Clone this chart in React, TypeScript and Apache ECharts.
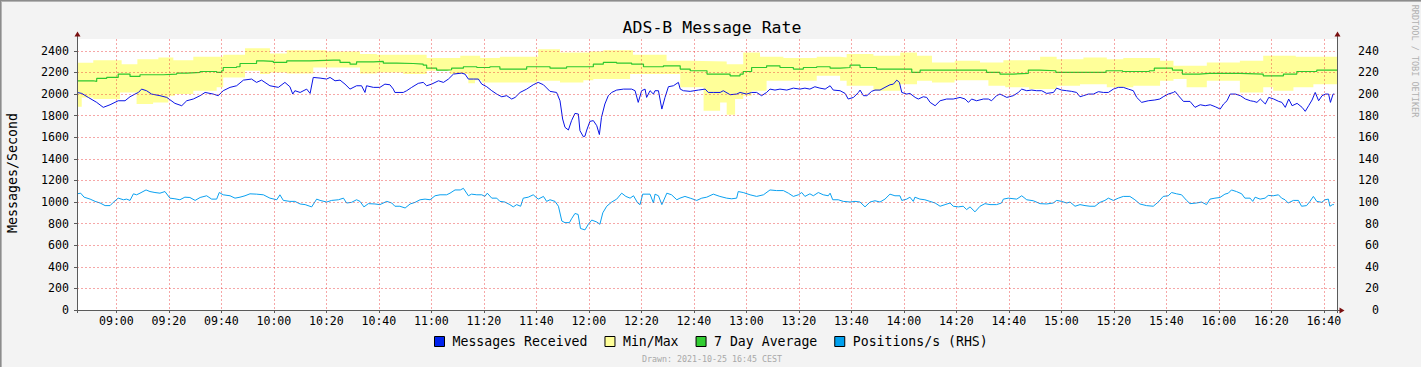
import React, { useEffect, useRef } from "react";
import * as echarts from "echarts";

// ---------- data (minutes after 08:45) ----------
const START_MIN = 525; // 08:45
const END_MIN = 1005; // 16:45

const timeLabels = ["09:00","09:20","09:40","10:00","10:20","10:40","11:00","11:20","11:40","12:00","12:20","12:40","13:00","13:20","13:40","14:00","14:20","14:40","15:00","15:20","15:40","16:00","16:20","16:40"];
const leftTicks = [0,200,400,600,800,1000,1200,1400,1600,1800,2000,2200,2400];
const rightTicks = [0,20,40,60,80,100,120,140,160,180,200,220,240];

const msgT = [0,1.8,4.3,7.5,10.0,12.6,15.7,18.3,20.2,22.1,23.4,24.6,26.5,28.4,31.6,34.2,37.3,39.9,41.8,44.3,46.9,48.8,51.9,53.8,55.7,58.3,60.8,63.4,66.5,68.4,70.3,73.5,76.7,79.2,81.1,82.2,83.0,85.0,87.5,88.8,90.0,92.6,95.1,96.4,98.3,100.2,102.1,104.0,106.5,108.4,109.7,110.3,112.9,115.4,117.3,119.2,120.5,121.1,124.3,125.6,127.5,130.0,131.9,133.2,135.1,137.7,139.6,141.5,143.4,146.5,147.8,149.1,151.0,152.9,154.2,156.1,158.0,159.9,161.8,163.7,165.6,166.9,168.8,171.3,173.8,175.7,177.7,180.2,182.7,184.0,185.0,185.9,187.2,188.4,189.7,191.0,191.6,192.9,193.5,194.2,195.4,196.7,198.0,199.0,199.8,201.1,202.4,203.7,205.6,208.2,211.3,212.6,213.8,215.1,216.4,217.0,218.3,219.6,220.2,221.5,222.8,224.0,225.3,227.2,229.1,229.8,231.0,233.6,236.7,239.3,240.5,242.4,245.0,246.2,248.8,251.3,252.6,255.1,257.0,258.9,260.8,262.7,264.0,265.9,267.8,270.4,272.9,275.4,277.3,279.2,281.1,283.0,285.0,286.9,288.1,290.7,292.6,293.8,295.8,297.7,298.3,299.6,300.9,302.7,304.0,305.9,307.8,309.7,311.0,312.3,313.3,314.2,316.1,317.3,319.3,320.5,322.4,323.7,325.0,326.9,328.8,331.3,333.8,336.4,338.3,339.6,340.8,342.7,345.3,347.2,348.4,350.3,351.6,352.9,354.2,356.7,358.6,359.9,361.8,363.7,365.6,367.5,369.4,372.0,373.2,375.1,377.0,378.9,380.8,382.1,383.4,385.3,387.2,389.1,391.0,392.9,394.8,396.7,398.6,400.5,402.4,403.7,405.6,408.1,410.6,412.5,413.8,415.7,417.7,418.3,419.6,421.5,424.0,425.9,427.9,429.8,431.7,433.6,435.5,436.8,438.1,439.3,441.3,443.2,445.1,447.0,448.3,449.5,450.8,452.7,454.0,455.9,457.8,459.0,460.3,461.6,462.9,464.8,466.7,467.9,469.2,470.5,471.7,473.0,474.3,475.6,476.8,477.5,478.5,479.0];
const msgV = [2015,2006,1969,1923,1877,1901,1938,1938,1975,2000,2015,2046,2031,2000,1985,1969,1914,1892,1938,1954,1985,2015,2000,1985,2031,2062,2077,2129,2139,2108,2129,2077,2062,2108,2068,2000,2031,2015,2046,2006,2154,2148,2139,2154,2123,2129,2092,2046,2077,2077,2015,2077,2062,2062,2092,2086,2046,2015,2015,2031,2062,2099,2108,2077,2092,2123,2108,2139,2185,2194,2185,2139,2139,2139,2092,2068,2031,2000,1975,1985,1954,1969,2015,2046,2086,2108,2086,2025,2015,1938,1769,1692,1667,1754,1821,1815,1661,1605,1610,1667,1747,1754,1707,1625,1784,1908,1985,2015,2037,2046,2046,2031,1923,2031,2046,1969,2031,2000,2031,2031,1861,1969,2068,2077,2108,2046,2031,2025,2037,2046,2015,2015,2015,2031,1994,2000,2015,2000,2015,2015,1985,2015,2046,2037,2046,2037,2055,2046,2055,2046,2068,2055,2046,2077,2037,2031,2006,1954,1969,2015,2037,1985,1985,2025,2037,2037,2062,2086,2092,2129,2108,2015,2000,2006,1969,1954,1975,1969,1923,1892,1938,1954,1954,1969,1954,1923,1954,1938,1954,1954,1938,1985,2000,1985,1969,1985,2015,2046,2031,2037,2031,2031,2006,2015,2055,2037,2031,2025,2015,1975,1985,2000,2000,2022,2015,2015,2046,2062,2062,2046,2031,1969,1923,1938,1945,1954,1975,2000,2015,2025,1985,1932,1932,1877,1901,1892,1901,1883,1861,1908,1938,2000,2000,1985,1954,1938,1932,1923,1954,1908,1969,1954,1932,1923,1877,1954,1892,1914,1877,1840,1892,1945,2015,1938,1985,2000,2000,1923,2000,2000];

const bandTopT = [0,6.2,17.0,23.0,31.0,36.7,44.3,55.7,64.0,73.5,79.9,95.1,107.8,114.2,133.2,146.0,153.6,161.1,175.7,184.0,195.4,200.5,211.8,224.6,233.6,247.5,253.8,260.2,269.1,281.8,290.7,293.2,303.4,313.6,320.0,325.7,334.4,344.0,352.9,366.9,373.2,383.4,392.3,398.6,412.6,417.7,430.4,443.0,451.9,464.3,480];
const bandTopV = [2290,2314,2277,2323,2339,2314,2345,2363,2425,2376,2406,2394,2370,2363,2333,2354,2333,2345,2416,2385,2394,2406,2363,2308,2302,2277,2385,2345,2333,2345,2339,2370,2354,2385,2354,2293,2308,2293,2314,2345,2323,2339,2323,2333,2308,2262,2293,2308,2354,2345,2345];

const bandLowT = [0,1.8,6.2,16.4,22.7,29.0,34.8,37.3,44.3,53.2,55.7,64.0,69.7,73.5,79.9,90.0,107.8,114.2,124.3,133.2,142.1,149.1,151.6,154.2,175.1,184.0,192.9,196.7,210.7,229.8,238.7,245.0,247.5,250.7,253.8,257.0,262.7,281.8,290.7,293.2,303.4,313.6,320.0,325.7,334.3,347.2,353.6,362.7,373.2,382.1,392.3,402.4,412.6,417.7,422.7,430.4,443.0,451.9,455.7,463.4,471.0,480];
const bandLowV = [1883,1969,1954,2015,1908,1923,1985,2000,2031,2062,2154,2216,2185,2200,2191,2246,2191,2200,2185,2216,2185,2099,2129,2108,2123,2108,2129,2139,2185,2062,1846,1923,1809,1954,1985,2031,2123,2169,2123,2077,2031,2092,2123,2108,2129,2077,2062,2046,2077,2092,2062,2077,2123,2139,2062,2123,2015,2062,2031,2062,2092,2092];

const avgT = [0,3.0,6.2,7.5,11.3,15.7,20.2,24.0,28.4,32.9,38.0,41.8,46.9,50.0,53.2,55.1,55.7,60.8,62.1,67.2,68.4,71.0,74.8,79.9,83.7,88.8,97.7,100.2,104.0,106.5,112.9,116.7,121.8,128.1,131.9,133.2,137.0,140.8,142.7,145.9,147.2,152.3,157.3,161.1,169.4,171.3,175.1,180.2,186.5,192.9,196.7,200.5,205.6,211.3,215.8,223.4,229.8,233.6,238.7,240.0,246.3,248.8,252.6,253.8,257.0,262.7,267.8,272.9,276.7,281.8,286.9,290.7,294.5,298.3,304.6,312.3,318.0,321.2,328.8,336.4,342.7,346.5,351.6,356.7,362.4,366.6,372.9,379.2,386.9,392.0,398.3,408.5,410.4,417.3,421.1,427.5,431.3,443.0,451.9,459.6,464.7,472.3,480];
const avgV = [2123,2123,2117,2145,2154,2185,2163,2179,2179,2185,2194,2200,2209,2209,2200,2216,2246,2253,2283,2283,2308,2302,2293,2308,2308,2314,2314,2293,2277,2299,2302,2286,2283,2277,2268,2240,2222,2225,2240,2240,2253,2246,2253,2231,2231,2253,2253,2240,2253,2253,2277,2293,2286,2277,2253,2262,2231,2216,2216,2185,2185,2169,2185,2209,2246,2262,2246,2231,2246,2253,2240,2246,2268,2246,2231,2231,2200,2222,2222,2222,2222,2200,2185,2191,2222,2216,2200,2200,2200,2216,2209,2216,2240,2222,2185,2191,2191,2185,2169,2185,2209,2222,2222];

const posT = [0,1.4,2.7,5.0,6.9,8.8,10.7,12.6,13.8,15.7,17.7,18.9,20.2,21.5,22.7,24.0,26.3,27.8,29.7,31.6,33.5,35.4,37.3,39.2,41.1,43.0,45.0,46.9,49.4,51.3,53.2,54.2,55.7,58.3,60.2,62.1,64.0,65.9,68.4,71.0,73.5,76.1,77.3,78.6,81.1,83.0,85.0,86.9,89.4,91.3,92.6,95.1,97.0,99.6,101.5,102.7,104.6,106.5,107.8,109.3,111.0,113.5,115.4,118.0,119.9,121.1,123.0,125.0,126.9,128.8,130.7,132.6,134.5,136.4,138.3,140.8,142.1,144.0,146.0,147.2,149.1,150.3,152.3,154.2,155.4,156.3,158.0,159.9,161.1,163.0,164.9,166.2,167.5,169.0,170.0,171.9,173.8,175.7,177.7,178.9,180.2,182.1,183.4,184.7,185.9,187.6,188.4,189.7,190.9,191.8,193.5,194.8,196.1,198.0,199.2,200.3,201.8,203.7,205.6,207.5,209.1,210.7,212.0,213.6,214.5,215.5,218.3,219.6,220.2,221.5,222.8,224.7,226.5,228.5,229.7,231.6,233.6,236.1,238.0,239.9,242.4,244.9,247.5,249.4,251.3,251.9,253.8,256.4,258.9,261.5,264.0,266.5,269.1,271.0,272.9,274.8,276.1,277.3,279.2,280.5,282.4,284.3,286.2,286.9,287.9,290.0,291.9,294.5,296.4,298.3,300.2,302.1,304.0,305.9,307.8,309.7,311.6,313.5,314.2,316.1,317.3,318.6,319.2,321.1,323.0,324.9,326.9,328.8,330.7,332.6,333.8,335.7,337.6,338.9,340.2,342.1,344.0,345.9,347.8,350.3,352.2,352.9,354.8,358.0,359.9,361.8,364.3,366.9,369.4,371.9,373.2,375.1,377.0,378.3,380.2,382.1,384.0,385.9,387.8,389.7,391.6,392.9,394.8,396.7,398.6,401.1,403.0,404.9,407.4,410.0,411.9,413.8,415.7,417.0,418.9,420.8,422.7,424.0,426.5,428.4,430.3,431.6,433.5,435.4,437.3,438.6,439.8,441.7,443.7,444.9,446.9,447.9,448.8,450.7,452.6,453.8,455.7,457.7,458.9,460.2,461.4,463.4,465.3,466.5,468.4,469.7,471.0,472.3,474.2,475.4,476.7,477.3,478.3,478.8];
const posV = [107.6,108.2,104.5,102.7,100.6,99.1,96.7,96.7,99.7,103.6,102.1,102.7,101.5,107.6,106.7,108.2,111.2,109.7,108.8,108.2,109.7,103.6,103.0,102.1,104.5,104.2,101.5,104.2,105.8,102.7,102.7,108.8,106.7,105.8,103.6,104.5,105.8,107.6,107.3,106.7,103.6,102.1,106.7,101.5,100.6,100.6,98.2,97.6,95.5,102.7,101.5,100.0,101.5,102.1,103.6,99.1,99.7,102.1,100.6,95.5,98.5,98.2,97.6,100.6,99.1,96.1,96.1,94.5,98.2,99.7,102.1,102.7,102.1,105.8,106.7,106.7,108.2,111.2,111.2,112.7,105.8,107.3,106.7,106.7,105.2,108.2,103.6,103.6,100.6,100.0,97.6,95.5,97.6,96.1,103.6,104.5,106.7,102.7,105.2,100.6,102.1,100.6,96.1,82.4,80.9,80.9,84.5,89.4,88.5,75.5,74.2,79.4,83.3,81.5,79.4,90.0,96.1,100.0,102.7,108.2,105.2,103.6,105.8,99.1,97.6,107.3,107.3,99.1,107.3,105.8,97.6,108.2,106.7,102.1,103.6,105.2,103.6,101.5,103.6,104.5,107.3,105.2,103.6,103.0,103.6,109.7,108.8,106.7,105.2,106.7,111.2,110.6,110.6,108.2,105.2,106.7,108.8,105.2,107.6,105.8,108.8,106.7,105.8,108.2,102.1,102.1,100.6,100.0,100.6,100.0,95.5,100.0,101.2,100.0,102.7,107.3,105.8,105.8,101.5,102.7,104.5,100.6,104.5,102.7,102.1,100.6,99.1,96.1,97.6,99.1,96.1,95.5,96.1,93.0,95.5,90.9,96.1,98.5,97.6,97.6,99.1,102.7,103.6,102.7,105.8,102.1,101.2,98.5,98.2,99.1,101.5,100.6,99.1,100.0,96.1,97.6,96.7,96.1,96.1,99.7,101.5,103.6,101.5,103.6,105.2,105.2,102.1,98.2,96.7,96.1,100.0,105.2,105.8,108.8,107.6,106.7,101.5,98.5,99.1,100.0,97.6,102.7,103.6,104.2,107.3,108.2,111.2,109.7,107.6,103.6,103.6,100.6,104.5,102.7,103.6,106.1,105.8,106.7,103.6,102.1,99.1,101.5,101.5,96.1,96.7,100.6,105.2,100.6,99.7,102.1,102.7,96.1,97.6,97.6];

// ---------- helpers ----------
const FONT = "DejaVu Sans Mono";
const toMin = (s: string) => {
  const [h, m] = s.split(":").map(Number);
  return h * 60 + m;
};
const pad = (n: number) => String(n).padStart(2, "0");
const fmtTime = (v: number) => `${pad(Math.floor(v / 60))}:${pad(Math.round(v % 60))}`;
const pairs = (t: number[], v: number[]) => t.map((x, i) => [START_MIN + x, v[i]]);

const W = 1421;
const H = 367;
const G = { left: 77, right: 84, top: 39, bottom: 57 };
const LEFT_MAX = 2510;
const RIGHT_MAX = 251;

export default function App() {
  const ref = useRef<HTMLDivElement>(null);
  useEffect(() => {
    if (!ref.current) return;
    const chart = echarts.init(ref.current, undefined, { renderer: "svg" });
    const xMajor = timeLabels.map(toMin);
    const xMinor = xMajor.map((m) => m - 10).concat([xMajor[xMajor.length - 1] + 10]).filter((m) => m > START_MIN && m < END_MIN);
    const yMinor = leftTicks.map((v) => v + 100).filter((v) => v < LEFT_MAX);

    const px0 = G.left;
    const px1 = W - G.right;
    const py0 = G.top;
    const py1 = H - G.bottom;
    const axisCol = "#5a5a5a";
    const arrowCol = "#7a1010";
    const gridCol = "rgba(235,60,60,0.45)";

    chart.setOption({
      animation: false,
      backgroundColor: "#f3f3f3",
      textStyle: { fontFamily: FONT },
      grid: {
        left: G.left,
        right: G.right,
        top: G.top,
        bottom: G.bottom,
        show: true,
        backgroundColor: "#ffffff",
        borderWidth: 0,
      },
      legend: {
        data: ["Messages Received", "Min/Max", "7 Day Average", "Positions/s (RHS)"],
        left: 434,
        top: 335,
        padding: 0,
        icon: "rect",
        itemWidth: 10,
        itemHeight: 10,
        itemGap: 17,
        selectedMode: false,
        itemStyle: { borderColor: "#000", borderWidth: 1 },
        textStyle: { fontFamily: FONT, fontSize: 13.2, color: "#000", padding: [1, 0, 0, 3] },
      },
      xAxis: [
        {
          type: "value",
          min: START_MIN,
          max: END_MIN,
          z: 4,
          axisLine: { show: false },
          axisTick: { show: true, length: 3, customValues: xMajor, lineStyle: { color: axisCol } },
          axisLabel: {
            customValues: xMajor,
            formatter: (v: number) => fmtTime(v),
            fontFamily: FONT,
            fontSize: 11.6,
            color: "#000",
            margin: 5,
          },
          splitLine: { show: true, lineStyle: { color: gridCol, type: [2, 2], width: 1 } },
        },
        {
          type: "value",
          min: START_MIN,
          max: END_MIN,
          z: 3,
          position: "bottom",
          axisLine: { show: false },
          axisTick: { show: false, customValues: xMinor },
          axisLabel: { show: false },
          splitLine: { show: true, lineStyle: { color: "rgba(255,255,255,0.55)", type: [1, 1], width: 1 } },
        },
      ],
      yAxis: [
        {
          type: "value",
          min: 0,
          max: LEFT_MAX,
          z: 4,
          axisLine: { show: false },
          axisTick: { show: true, length: 3, customValues: leftTicks, lineStyle: { color: axisCol } },
          axisLabel: {
            customValues: leftTicks,
            formatter: (v: number) => String(v),
            fontFamily: FONT,
            fontSize: 11.6,
            color: "#000",
            margin: 8,
          },
          splitLine: { show: true, lineStyle: { color: gridCol, type: [2, 2], width: 1 } },
        },
        {
          type: "value",
          min: 0,
          max: RIGHT_MAX,
          position: "right",
          z: 4,
          axisLine: { show: false },
          axisTick: { show: false, customValues: rightTicks },
          axisLabel: {
            customValues: rightTicks,
            formatter: (v: number) => String(v),
            fontFamily: FONT,
            fontSize: 11.6,
            color: "#000",
            margin: 42,
            align: "right",
          },
          splitLine: { show: false },
        },
        {
          type: "value",
          min: 0,
          max: LEFT_MAX,
          z: 3,
          position: "left",
          axisLine: { show: false },
          axisTick: { show: false, customValues: yMinor },
          axisLabel: { show: false },
          splitLine: { show: true, lineStyle: { color: "rgba(255,255,255,0.55)", type: [1, 1], width: 1 } },
        },
      ],
      series: [
        {
          name: "Min/Max",
          type: "line",
          step: "end",
          showSymbol: false,
          symbol: "none",
          data: pairs(bandTopT, bandTopV),
          itemStyle: { color: "#ffff99" },
          lineStyle: { width: 0, color: "#ffff99" },
          areaStyle: { color: "#ffff99", opacity: 1 },
          silent: true,
        },
        {
          name: "band-low",
          type: "line",
          step: "end",
          showSymbol: false,
          symbol: "none",
          data: pairs(bandLowT, bandLowV),
          itemStyle: { color: "#ffffff" },
          lineStyle: { width: 0, color: "#ffffff" },
          areaStyle: { color: "#ffffff", opacity: 1 },
          silent: true,
        },
        {
          name: "7 Day Average",
          type: "line",
          step: "end",
          showSymbol: false,
          symbol: "none",
          data: pairs(avgT, avgV),
          itemStyle: { color: "#32cd32" },
          lineStyle: { width: 1.2, color: "#2ec82e" },
          silent: true,
        },
        {
          name: "Messages Received",
          type: "line",
          showSymbol: false,
          symbol: "none",
          data: pairs(msgT, msgV),
          itemStyle: { color: "#0022ee" },
          lineStyle: { width: 1, color: "#0a14e6" },
          silent: true,
        },
        {
          name: "Positions/s (RHS)",
          type: "line",
          yAxisIndex: 1,
          showSymbol: false,
          symbol: "none",
          data: pairs(posT, posV),
          itemStyle: { color: "#00a0ee" },
          lineStyle: { width: 1, color: "#0aa0f0" },
          silent: true,
        },
      ],
      graphic: [
        // frame
        { type: "line", shape: { x1: 0.5, y1: 0, x2: 0.5, y2: H }, style: { stroke: "#8c8c8c", lineWidth: 1 } },
        { type: "line", shape: { x1: 1.5, y1: 1, x2: 1.5, y2: H }, style: { stroke: "#b4b4b4", lineWidth: 1 } },
        { type: "line", shape: { x1: 0, y1: 0.5, x2: W, y2: 0.5 }, style: { stroke: "#8c8c8c", lineWidth: 1 } },
        { type: "line", shape: { x1: 1, y1: 1.5, x2: W, y2: 1.5 }, style: { stroke: "#b4b4b4", lineWidth: 1 } },
        // axes
        { type: "line", z: 10, shape: { x1: px0 + 0.5, y1: py0 - 3, x2: px0 + 0.5, y2: py1 + 3 }, style: { stroke: axisCol, lineWidth: 1 } },
        { type: "line", z: 10, shape: { x1: px1 + 0.5, y1: py0 - 3, x2: px1 + 0.5, y2: py1 + 3 }, style: { stroke: axisCol, lineWidth: 1 } },
        { type: "line", z: 10, shape: { x1: px0 - 3, y1: py1 + 0.5, x2: px1 + 3, y2: py1 + 0.5 }, style: { stroke: axisCol, lineWidth: 1 } },
        { type: "polygon", z: 11, shape: { points: [[px0 + 0.5, py0 - 7.5], [px0 - 2.5, py0 - 2.5], [px0 + 3.5, py0 - 2.5]] }, style: { fill: arrowCol } },
        { type: "polygon", z: 11, shape: { points: [[px1 + 0.5, py0 - 7.5], [px1 - 2.5, py0 - 2.5], [px1 + 3.5, py0 - 2.5]] }, style: { fill: arrowCol } },
        { type: "polygon", z: 11, shape: { points: [[px1 + 7.5, py1 + 0.5], [px1 + 2.5, py1 - 2.5], [px1 + 2.5, py1 + 3.5]] }, style: { fill: arrowCol } },
        // texts
        {
          type: "text",
          x: 712,
          y: 27,
          style: { text: "ADS-B Message Rate", fontFamily: FONT, fontSize: 16.5, fill: "#000", align: "center", verticalAlign: "middle" },
        },
        {
          type: "text",
          x: 12,
          y: 173,
          rotation: Math.PI / 2,
          style: { text: "Messages/Second", fontFamily: FONT, fontSize: 13.3, fill: "#000", align: "center", verticalAlign: "middle" },
        },
        {
          type: "text",
          x: 1415,
          y: 61,
          rotation: -Math.PI / 2,
          style: { text: "RRDTOOL / TOBI OETIKER", fontFamily: FONT, fontSize: 8.5, fill: "#b0b0b0", align: "center", verticalAlign: "middle" },
        },
        {
          type: "text",
          x: 712,
          y: 359,
          style: { text: "Drawn: 2021-10-25 16:45 CEST", fontFamily: FONT, fontSize: 8.3, fill: "#a8a8a8", align: "center", verticalAlign: "middle" },
        },
      ],
    });
    return () => chart.dispose();
  }, []);
  return <div ref={ref} style={{ position: "absolute", left: 0, top: 0, width: W, height: H }} />;
}
